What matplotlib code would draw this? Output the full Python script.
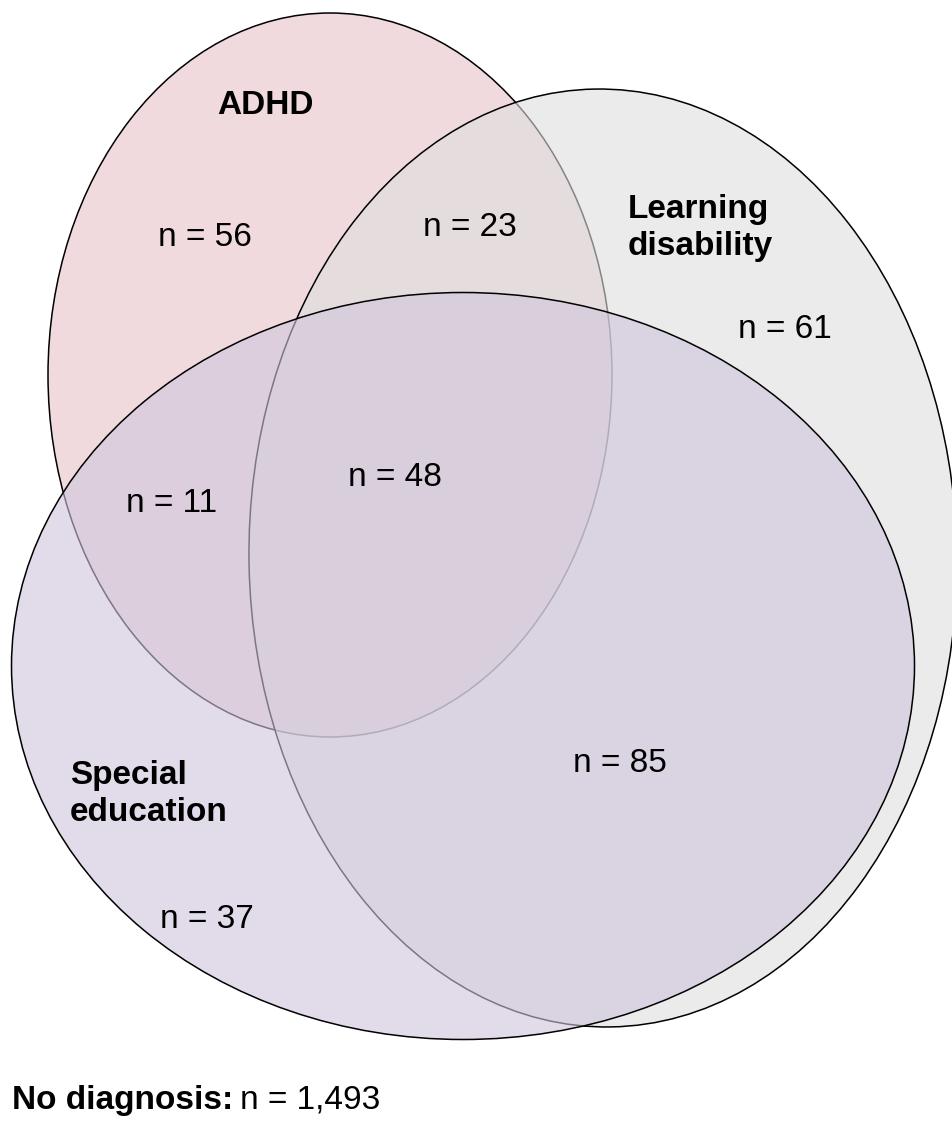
import matplotlib
matplotlib.use("Agg")
from matplotlib import pyplot as plt
from matplotlib.patches import Ellipse

plt.rcParams['font.family'] = ['Liberation Sans', 'DejaVu Sans']

# sets and region counts
set_names = ['ADHD', 'Learning\ndisability', 'Special\neducation']
region_labels = ['ADHD only', 'ADHD & LD', 'LD only', 'All three',
                 'ADHD & SpEd', 'LD & SpEd', 'SpEd only']
region_counts = [56, 23, 61, 48, 11, 85, 37]
no_diagnosis = 1493

# ellipse geometry in pixel coords (cx, cy, width, height, angle)
ellipses = [(330, 375, 564, 724, 0), (603, 558, 708, 938, -1), (463, 666, 903, 747, 0)]
face_colors = [(0.941, 0.855, 0.867, 1.0),
               (0.87, 0.87, 0.87, 0.6),
               (0.816, 0.776, 0.863, 0.6)]

name_pos = [(265, 105, 'center'), (628, 228, 'left'), (70, 794, 'left')]
count_pos = [(205, 238), (470, 228), (785, 330), (395, 477),
             (172, 503), (620, 763), (207, 920)]

fig = plt.figure(figsize=(9.53, 11.23), dpi=100)
ax = fig.add_axes([0, 0, 1, 1])
ax.set_xlim(0, 953)
ax.set_ylim(1123, 0)
ax.axis('off')

for (cx, cy, w, h, ang), fc in zip(ellipses, face_colors):
    ax.add_patch(Ellipse((cx, cy), w, h, angle=ang, facecolor=fc,
                         edgecolor='black', linewidth=1.1))

for name, (x, y, ha) in zip(set_names, name_pos):
    ax.text(x, y, name, fontsize=24, fontweight='bold', ha=ha, va='center',
            linespacing=1.25)

for n, (x, y) in zip(region_counts, count_pos):
    ax.text(x, y, f'n = {n}', fontsize=24, ha='center', va='center')

t = ax.text(12, 1100, 'No diagnosis:', fontsize=24, fontweight='bold',
            ha='left', va='center')
fig.canvas.draw()
bb = t.get_window_extent()
x_end = ax.transData.inverted().transform((bb.x1, bb.y0))[0]
ax.text(x_end + 7, 1100, f'n = {no_diagnosis:,}', fontsize=24, ha='left', va='center')

fig.savefig('out.png', dpi=100)
